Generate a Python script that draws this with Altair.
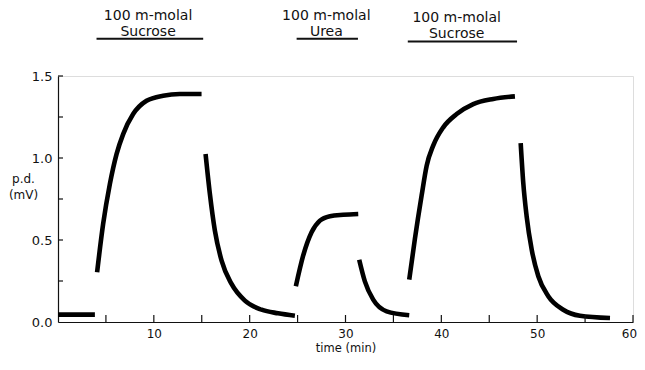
import altair as alt
import pandas as pd

# ---- data: time (min), p.d. (mV) ----
seg_names = ["base", "suc1_on", "suc1_off", "urea_on", "urea_off", "suc2_on", "suc2_off"]
seg_t = [
    [0.0, 3.85],
    [4.08, 4.71, 5.41, 6.11, 6.80, 7.84, 9.24, 10.97, 12.71, 14.98],
    [15.40, 15.85, 16.37, 17.07, 18.11, 19.50, 21.24, 22.97, 24.72],
    [24.82, 25.58, 26.46, 27.33, 28.37, 29.76, 31.33],
    [31.43, 32.02, 32.89, 34.29, 36.65],
    [36.65, 37.24, 37.94, 38.47, 39.15, 40.20, 41.60, 43.33, 45.42, 47.68],
    [48.28, 48.55, 48.90, 49.43, 50.12, 51.16, 52.72, 54.47, 57.60],
]
seg_pd = [
    [0.045, 0.045],
    [0.303, 0.598, 0.841, 1.024, 1.146, 1.268, 1.349, 1.380, 1.390, 1.390],
    [1.024, 0.780, 0.557, 0.374, 0.232, 0.130, 0.075, 0.053, 0.038],
    [0.218, 0.404, 0.547, 0.618, 0.645, 0.654, 0.659],
    [0.380, 0.248, 0.136, 0.065, 0.041],
    [0.258, 0.506, 0.770, 0.953, 1.075, 1.187, 1.268, 1.329, 1.360, 1.376],
    [1.091, 0.848, 0.645, 0.441, 0.279, 0.157, 0.075, 0.038, 0.024],
]

# stimulus annotations
stim_top = ["100 m-molal", "100 m-molal", "100 m-molal"]
stim_bottom = ["Sucrose", "Urea", "Sucrose"]
stim_start = [4.02, 24.9, 36.5]
stim_end = [15.15, 31.3, 47.9]
stim_center = [9.4, 28.0, 41.6]
stim_bar_y = [1.727, 1.727, 1.711]
stim_top_y = [1.864, 1.864, 1.852]
stim_bottom_y = [1.769, 1.769, 1.757]

x_tick_values = [5, 10, 15, 20, 25, 30, 35, 40, 45, 50, 55, 60]
x_label_values = [10, 20, 30, 40, 50, 60]
y_tick_values = [0.25, 0.5, 0.75, 1.0, 1.25, 1.5]
y_label_values = [0.0, 0.5, 1.0, 1.5]

# ---- build tables ----
rows = []
for name, ts, ys in zip(seg_names, seg_t, seg_pd):
    for t, y in zip(ts, ys):
        rows.append({"seg": name, "t": t, "pd": y})
df = pd.DataFrame(rows)

stim = pd.DataFrame({
    "t0": stim_start, "t1": stim_end, "tc": stim_center,
    "ybar": stim_bar_y, "ytop": stim_top_y, "ybot": stim_bottom_y,
    "top": stim_top, "bottom": stim_bottom,
})
xt = pd.DataFrame({"t": x_tick_values})
yt = pd.DataFrame({"pd": y_tick_values})

W, H = 575, 246
FONT = "DejaVu Sans"
INK = "#111111"

xs = alt.Scale(domain=[0, 60], nice=False, zero=False)
ys = alt.Scale(domain=[0, 1.5], nice=False, zero=False)

x_axis = alt.Axis(values=x_label_values, ticks=False, tickSize=0, grid=False,
                  labelFlush=False, title="time (min)", labelPadding=6, labelFontSize=12,
                  labelOffset={"expr": "datum.value === 60 ? -4 : 0"},
                  titleFontSize=11.5, titleFontWeight="normal",
                  titleY=29, titleBaseline="alphabetic",
                  domainColor=INK, domainWidth=1.2, labelColor=INK, titleColor=INK,
                  labelFont=FONT, titleFont=FONT)
y_axis = alt.Axis(values=y_label_values, format=".1f", ticks=False, tickSize=0, grid=False,
                  labelFlush=False, title=["p.d.", "(mV)"], titleAngle=0, titleX=-35, titleY=102,
                  titleAlign="center", titleBaseline="middle", titleLineHeight=16,
                  labelPadding=6, labelFontSize=13, titleFontSize=12,
                  titleFontWeight="normal", domainColor=INK, domainWidth=1.2,
                  labelColor=INK, titleColor=INK, labelFont=FONT, titleFont=FONT)

curves = alt.Chart(df).mark_line(color="black", strokeWidth=4.6, interpolate="monotone",
                                 strokeCap="butt").encode(
    x=alt.X("t:Q", scale=xs, axis=x_axis),
    y=alt.Y("pd:Q", scale=ys, axis=y_axis),
    detail="seg:N",
)

xticks = alt.Chart(xt).mark_rule(color=INK, strokeWidth=1.2).encode(
    x=alt.X("t:Q", scale=xs),
    y=alt.value(H),
    y2=alt.value(H - 7),
)
yticks = alt.Chart(yt).mark_rule(color=INK, strokeWidth=1.2).encode(
    y=alt.Y("pd:Q", scale=ys),
    x=alt.value(0),
    x2=alt.value(5),
)

bars = alt.Chart(stim).mark_rule(color=INK, strokeWidth=2).encode(
    x=alt.X("t0:Q", scale=xs), x2="t1:Q", y=alt.Y("ybar:Q", scale=ys),
)
top_txt = alt.Chart(stim).mark_text(font=FONT, fontSize=14, color=INK, baseline="middle").encode(
    x=alt.X("tc:Q", scale=xs), y=alt.Y("ytop:Q", scale=ys), text="top:N",
)
bot_txt = alt.Chart(stim).mark_text(font=FONT, fontSize=14, color=INK, baseline="middle").encode(
    x=alt.X("tc:Q", scale=xs), y=alt.Y("ybot:Q", scale=ys), text="bottom:N",
)

chart = alt.layer(curves, xticks, yticks, bars, top_txt, bot_txt).properties(
    width=W, height=H,
    autosize=alt.AutoSizeParams(type="none"),
    padding={"left": 50, "top": 68, "right": 4, "bottom": 31},
).configure_view(stroke=None).configure(background="white")

chart.save("out.html", embed_options={"renderer": "svg", "actions": False})
